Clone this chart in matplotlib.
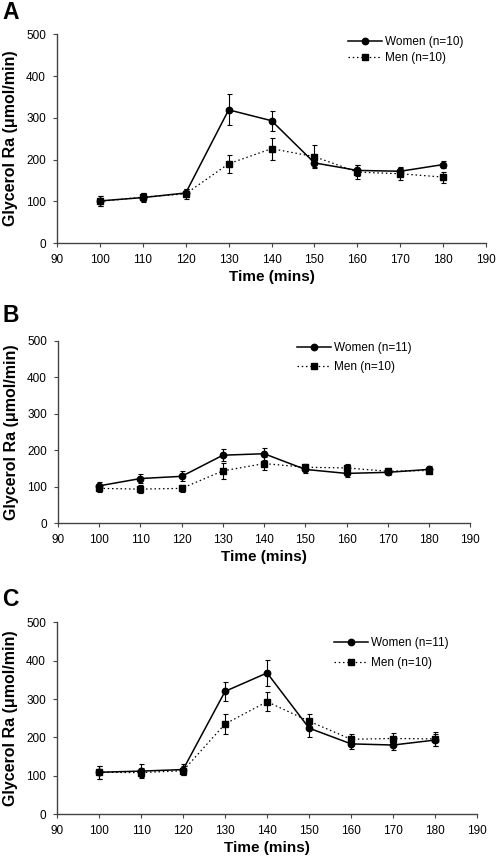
import matplotlib
matplotlib.use("Agg")
import matplotlib.pyplot as plt
from matplotlib.lines import Line2D

plt.rcParams["font.family"] = ["Liberation Sans", "DejaVu Sans"]

time = [100, 110, 120, 130, 140, 150, 160, 170, 180]

# panel A
women_a = [101, 109, 120, 319, 293, 192, 174, 172, 188]
women_a_err = [12, 10, 10, 37, 24, 10, 14, 8, 8]
men_a = [100, 110, 118, 190, 226, 207, 170, 166, 158]
men_a_err = [12, 10, 12, 22, 26, 28, 17, 15, 13]

# panel B
women_b = [102, 122, 128, 186, 190, 147, 136, 139, 147]
women_b_err = [10, 13, 14, 16, 16, 10, 11, 8, 9]
men_b = [95, 93, 95, 143, 163, 153, 151, 142, 144]
men_b_err = [10, 12, 10, 22, 18, 10, 10, 8, 8]

# panel C
women_c = [109, 112, 116, 320, 368, 224, 183, 180, 193]
women_c_err = [17, 18, 15, 25, 34, 23, 14, 13, 15]
men_c = [109, 108, 113, 235, 293, 242, 195, 197, 196]
men_c_err = [17, 12, 12, 27, 25, 20, 14, 14, 18]

W, H = 496, 856
DOTTED = (0, (1.2, 2.2))

# (letter, axes rect, letter top px, legend top-left px, legend row spacing)
panels = [
    ("A", [0.115, 0.716, 0.865, 0.244], women_a, women_a_err, men_a, men_a_err,
     "Women (n=10)", "Men (n=10)", 1, (348, 36), 0.36),
    ("B", [0.117, 0.389, 0.831, 0.213], women_b, women_b_err, men_b, men_b_err,
     "Women (n=11)", "Men (n=10)", 304, (297, 342), 0.62),
    ("C", [0.115, 0.049, 0.847, 0.224], women_c, women_c_err, men_c, men_c_err,
     "Women (n=11)", "Men (n=10)", 588, (334, 637), 0.7),
]

fig = plt.figure(figsize=(W / 100, H / 100), dpi=100)

for letter, rect, w, we, m, me, wlab, mlab, ltop, legxy, lspace in panels:
    ax = fig.add_axes(rect)
    ax.errorbar(time, m, yerr=me, color="black", ls=DOTTED, lw=0.9,
                marker="s", ms=4.6, capsize=1.8, elinewidth=0.8, capthick=0.8,
                zorder=2)
    ax.errorbar(time, w, yerr=we, color="black", ls="-", lw=1.1,
                marker="o", ms=4.6, capsize=1.8, elinewidth=0.8, capthick=0.8,
                zorder=3)
    ax.set_xlim(90, 190)
    ax.set_ylim(0, 500)
    ax.set_xticks(range(90, 191, 10))
    ax.set_yticks(range(0, 501, 100))
    for s in ("top", "right"):
        ax.spines[s].set_visible(False)
    for s in ("left", "bottom"):
        ax.spines[s].set_color("#444444")
        ax.spines[s].set_linewidth(1.0)
    ax.tick_params(labelsize=8.5, length=3, width=0.8, color="#444444")
    ax.tick_params(axis="x", pad=5)
    ax.tick_params(axis="y", pad=5)
    ax.set_xlabel("Time (mins)", fontsize=11, fontweight="bold", labelpad=3)
    ax.set_ylabel("Glycerol Ra (\u03bcmol/min)", fontsize=11.5, fontweight="bold",
                  labelpad=6)

    handles = [
        Line2D([], [], color="black", ls="-", lw=1.1, marker="o", ms=4.6),
        Line2D([], [], color="black", ls=DOTTED, lw=0.9, marker="s", ms=4.6),
    ]
    ax.legend(handles, [wlab, mlab], loc="upper left",
              bbox_to_anchor=(legxy[0] / W, 1 - legxy[1] / H),
              bbox_transform=fig.transFigure, borderpad=0, borderaxespad=0,
              frameon=False, fontsize=8.5, handlelength=2.9, handletextpad=0.25,
              labelspacing=lspace)

    fig.text(2 / W, 1 - ltop / H, letter, fontsize=16.5, fontweight="bold",
             ha="left", va="top")

fig.savefig("out.png", dpi=100)
